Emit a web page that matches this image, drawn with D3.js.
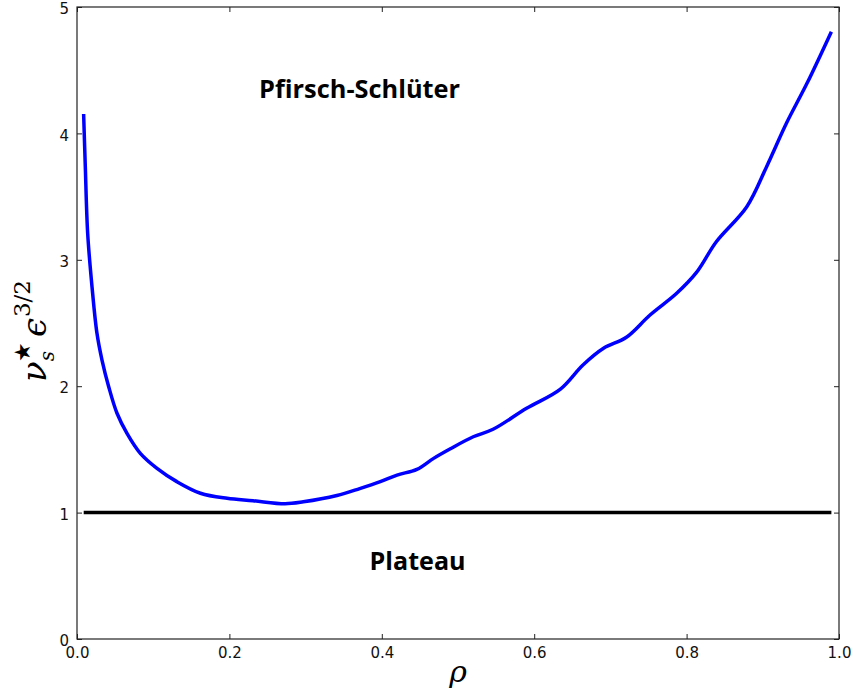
<!DOCTYPE html>
<html>
<head>
<meta charset="utf-8">
<script src="https://cdn.jsdelivr.net/npm/d3@7"></script>
<style>
  html, body { margin: 0; padding: 0; background: #fff; }
  svg { display: block; }
</style>
</head>
<body>
<svg id="chart" width="853" height="695"></svg>
<script>
// ---- data ----
const rho = [0.0087, 0.0109, 0.014, 0.0197, 0.0262, 0.0328, 0.0416, 0.0525, 0.0656, 0.0831, 0.105, 0.131, 0.162, 0.197, 0.231, 0.273, 0.297, 0.341, 0.371, 0.398, 0.42, 0.446, 0.468, 0.49, 0.52, 0.546, 0.59, 0.634, 0.664, 0.691, 0.721, 0.752, 0.787, 0.813, 0.839, 0.879, 0.905, 0.931, 0.958, 0.99];
const nuEps = [4.153, 3.737, 3.21, 2.787, 2.418, 2.207, 1.996, 1.786, 1.627, 1.469, 1.35, 1.245, 1.153, 1.113, 1.094, 1.07, 1.085, 1.135, 1.19, 1.245, 1.297, 1.342, 1.429, 1.505, 1.60, 1.659, 1.825, 1.975, 2.168, 2.30, 2.387, 2.563, 2.735, 2.90, 3.143, 3.42, 3.737, 4.08, 4.396, 4.805];
const plateauX = [0.0088, 0.99];
const plateauY = [1, 1];
const xTicks = [0.0, 0.2, 0.4, 0.6, 0.8, 1.0];
const yTicks = [0, 1, 2, 3, 4, 5];
const labels = [
  {text: "Pfirsch-Schlüter", x: 0.239, y: 4.28, len: 201},
  {text: "Plateau", x: 0.384, y: 0.545, len: 96}
];

// ---- layout ----
const svg = d3.select("#chart");
const L = 77, R = 839, T = 7, B = 639;
const x = d3.scaleLinear().domain([0, 1]).range([L, R]);
const y = d3.scaleLinear().domain([0, 5]).range([B, T]);

const tickLen = 5;
const fontTick = "DejaVu Sans, sans-serif";

const gB = svg.append("g").attr("transform", `translate(0,${B})`)
  .call(d3.axisBottom(x).tickValues(xTicks).tickFormat(d3.format(".1f")).tickSizeInner(-tickLen).tickSizeOuter(0).tickPadding(8));
const gT = svg.append("g").attr("transform", `translate(0,${T})`)
  .call(d3.axisTop(x).tickValues(xTicks).tickFormat("").tickSizeInner(-tickLen).tickSizeOuter(0));
const gL = svg.append("g").attr("transform", `translate(${L},0)`)
  .call(d3.axisLeft(y).tickValues(yTicks).tickFormat(d3.format("d")).tickSizeInner(-tickLen).tickSizeOuter(0).tickPadding(8));
const gR = svg.append("g").attr("transform", `translate(${R},0)`)
  .call(d3.axisRight(y).tickValues(yTicks).tickFormat("").tickSizeInner(-tickLen).tickSizeOuter(0));

[gB, gT, gL, gR].forEach(g => {
  g.select(".domain").remove();
  g.selectAll(".tick line").attr("stroke", "#222").attr("stroke-width", 1);
  g.selectAll(".tick text").attr("font-family", fontTick).attr("font-size", 15).attr("fill", "#111");
});
gL.selectAll(".tick text").attr("dy", "0.45em");

// frame
svg.append("rect").attr("x", L).attr("y", T).attr("width", R - L).attr("height", B - T)
  .attr("fill", "none").attr("stroke", "#222").attr("stroke-width", 1.2);

// plateau line
const line = d3.line().x(d => x(d[0])).y(d => y(d[1]));
svg.append("path").datum(plateauX.map((v, i) => [v, plateauY[i]]))
  .attr("d", line).attr("fill", "none").attr("stroke", "#000").attr("stroke-width", 3.5);

// curve
const curve = d3.line().x(d => x(d[0])).y(d => y(d[1])).curve(d3.curveCatmullRom.alpha(0.5));
svg.append("path").datum(rho.map((v, i) => [v, nuEps[i]]))
  .attr("d", curve).attr("fill", "none").attr("stroke", "#0000ff").attr("stroke-width", 3.5)
  .attr("stroke-linejoin", "round").attr("stroke-linecap", "butt");

// region labels
labels.forEach(l => {
  svg.append("text").attr("x", x(l.x)).attr("y", y(l.y))
    .attr("font-family", "Open Sans, sans-serif").attr("font-weight", 700)
    .attr("font-size", 25).attr("fill", "#000")
    .attr("textLength", l.len).attr("lengthAdjust", "spacingAndGlyphs")
    .text(l.text);
});

// x label
svg.append("text").attr("x", (L + R) / 2).attr("y", 682)
  .attr("text-anchor", "middle").attr("font-family", "DejaVu Serif, serif")
  .attr("font-style", "italic").attr("font-size", 30).text("ρ");

// y label
const yl = svg.append("text")
  .attr("transform", `translate(46,${(T + B) / 2 + 8}) rotate(-90)`)
  .attr("text-anchor", "middle").attr("font-family", "DejaVu Serif, serif")
  .attr("font-size", 34);
yl.append("tspan").attr("font-style", "italic").text("ν");
yl.append("tspan").attr("font-size", 20).attr("font-style", "italic").attr("dy", 8).text("s");
yl.append("tspan").attr("font-size", 22).attr("dx", -11).attr("dy", -24).text("★");
yl.append("tspan").attr("font-style", "italic").attr("dx", 5).attr("dy", 16).text("ϵ");
yl.append("tspan").attr("font-size", 23).attr("dx", 1).attr("dy", -16).text("3/2");
</script>
</body>
</html>
